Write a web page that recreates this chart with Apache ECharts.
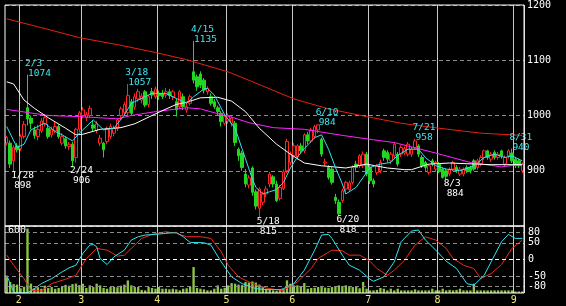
<!DOCTYPE html>
<html><head><meta charset="utf-8">
<script src="https://cdn.jsdelivr.net/npm/echarts@6/dist/echarts.min.js"></script>
<style>html,body{margin:0;padding:0;background:#000;}#c{width:566px;height:306px;}</style>
</head><body><div id="c"></div>
<script>
const dates = ['1/26','1/27','1/28','1/31',
'2/1','2/2','2/3','2/4','2/7','2/8','2/9','2/10','2/14','2/15','2/16','2/17','2/18','2/21','2/22','2/24','2/25','2/28',
'3/1','3/2','3/3','3/4','3/7','3/8','3/9','3/10','3/11','3/14','3/15','3/16','3/17','3/18','3/22','3/23','3/24','3/25','3/28','3/29','3/30','3/31',
'4/1','4/4','4/5','4/6','4/7','4/8','4/11','4/12','4/13','4/14','4/15','4/18','4/19','4/20','4/21','4/22','4/25','4/26','4/27','4/28',
'5/2','5/6','5/9','5/10','5/11','5/12','5/13','5/16','5/17','5/18','5/19','5/20','5/23','5/24','5/25','5/26','5/27','5/30','5/31',
'6/1','6/2','6/3','6/6','6/7','6/8','6/9','6/10','6/13','6/14','6/15','6/16','6/17','6/20','6/21','6/22','6/23','6/24','6/27','6/28','6/29','6/30',
'7/1','7/4','7/5','7/6','7/7','7/8','7/11','7/12','7/13','7/14','7/15','7/19','7/20','7/21','7/22','7/25','7/26','7/27','7/28','7/29',
'8/1','8/2','8/3','8/4','8/5','8/8','8/9','8/10','8/12','8/15','8/16','8/17','8/18','8/19','8/22','8/23','8/24','8/25','8/26','8/29','8/30','8/31',
'9/1','9/2','9/5'];

// [open, close, low, high]
const candles = [
[950,960,946,963],[950,912,905,955],[918,942,898,946],[945,938,933,950],[940,962,936,966],
[962,984,958,990],[1014,994,982,1074],[995,986,975,1000],[974,964,958,980],[962,975,955,983],
[972,990,968,995],[985,996,980,1001],[977,962,958,985],[965,975,960,980],[972,980,968,990],
[980,962,958,984],[950,962,946,968],[958,945,940,962],[944,948,938,952],[948,918,906,952],
[924,975,915,978],[975,1005,970,1008],[1000,1010,995,1015],[996,1002,990,1006],[1000,1013,995,1018],
[983,977,970,990],[973,985,968,990],[950,959,945,965],[950,938,924,952],[953,977,948,980],
[962,980,958,985],[968,977,962,982],[977,992,972,995],[1000,1012,992,1016],[1005,1020,1000,1025],
[1005,1036,1000,1057],[1025,1004,1000,1030],[1015,1034,1010,1040],[1030,1043,1025,1048],[1028,1035,1022,1040],
[1043,1019,1015,1046],[1020,1034,1015,1038],[1043,1037,1030,1050],[1034,1048,1030,1052],[1040,1036,1028,1045],
[1040,1034,1030,1046],[1037,1043,1032,1050],[1043,1036,1030,1048],[1034,1043,1028,1046],[1025,1010,998,1030],
[1016,1043,1012,1046],[1034,1016,1010,1040],[1010,1016,1005,1022],[1022,1034,1018,1038],[1079,1064,1058,1135],
[1070,1052,1045,1074],[1075,1055,1050,1080],[1064,1046,1040,1068],[1043,1049,1038,1053],[1034,1022,1018,1040],
[1025,1016,1012,1030],[1014,1007,1000,1018],[1004,989,980,1008],[986,998,982,1002],[990,1000,985,1004],
[986,995,980,998],[986,951,945,990],[939,927,918,942],[932,906,900,936],[894,876,870,903],
[874,887,868,892],[905,861,855,908],[862,836,830,866],[832,867,815,870],[843,858,838,862],
[858,867,852,872],[876,894,870,898],[889,876,870,892],[876,846,843,882],[850,870,846,874],
[868,898,865,902],[900,953,896,958],[915,930,910,935],[927,945,922,950],[925,945,920,948],
[945,936,930,950],[936,965,932,968],[965,954,948,970],[954,974,950,978],[962,980,958,983],
[974,983,968,984],[957,930,925,960],[914,916,909,922],[906,888,884,910],[903,879,875,907],
[852,846,840,858],[843,822,818,848],[846,864,842,868],[867,879,862,882],[866,878,862,882],
[879,906,875,910],[912,906,900,918],[909,927,905,930],[909,930,905,935],[930,894,890,934],
[906,882,876,910],[882,876,870,886],[897,909,892,912],[900,915,896,920],[936,924,918,940],
[933,921,915,937],[918,930,912,934],[927,948,922,952],[930,912,908,934],[930,942,925,946],
[932,940,928,944],[930,948,926,952],[930,939,925,943],[942,954,938,958],[945,930,925,948],
[924,909,905,928],[915,906,900,918],[897,909,893,912],[918,912,908,922],[903,915,898,918],
[912,900,896,916],[903,888,886,906],[900,890,884,904],[894,903,890,906],[903,915,900,918],
[906,900,896,910],[894,903,890,907],[894,903,890,906],[906,900,896,910],[906,900,895,909],
[918,903,900,921],[906,918,902,922],[912,924,908,928],[924,936,920,938],[936,924,920,938],
[921,930,916,934],[933,924,920,937],[924,930,920,934],[936,927,922,938],[912,924,908,928],
[927,936,922,939],[932,918,914,940],[921,909,905,925],[918,909,905,922],[900,912,896,915]
];

const volumes = [
150,105,85,80,45,60,615,90,45,55,
40,70,48,57,40,48,62,78,70,85,
90,75,89,48,73,57,89,73,48,41,
57,60,55,70,80,120,73,57,57,30,
25,57,48,41,57,41,41,35,41,35,
25,41,45,60,248,48,41,35,25,25,
41,73,41,50,73,95,89,80,75,105,
100,110,100,80,57,41,35,25,20,30,
40,121,89,73,73,60,95,41,48,50,
57,57,52,48,57,57,73,57,73,57,
57,57,45,105,41,25,25,30,48,41,
25,41,25,41,25,25,25,25,35,25,
25,25,25,41,25,25,41,25,30,25,
30,41,25,25,25,89,25,25,25,25,
25,25,25,25,25,25,25,15,15,15
];

// moving averages: [dayIndex, price]
const maShort = [[0,980],[3,942],[5,948],[7,974],[9,980],[11,986],[14,971],[16,965],[19,954],[21,968],[25,992],[28,974],[31,977],[34,1001],[36,1022],[37,1025],[42,1040],[46,1040],[49,1031],[52,1022],[54,1034],[57,1048],[58,1049],[60,1037],[63,1001],[66,977],[68,940],[71,885],[72,870],[74,858],[76,862],[78,866],[80,879],[82,905],[84,925],[86,940],[89,960],[91,965],[93,939],[95,906],[97,876],[98,858],[101,870],[103,888],[105,906],[108,912],[111,915],[113,928],[116,939],[119,939],[121,924],[124,909],[127,903],[131,900],[135,909],[138,924],[141,930],[144,924],[146,927],[149,918]];
const maMid = [[0,1061],[2,1057],[5,1028],[8,1013],[12,996],[17,977],[20,965],[22,966],[27,975],[33,978],[37,985],[40,994],[44,1006],[49,1020],[52,1024],[56,1032],[61,1033],[65,1026],[69,1007],[73,977],[78,948],[82,930],[86,914],[91,909],[98,905],[104,912],[110,905],[115,902],[117,902],[122,912],[128,914],[140,911],[149,911]];
const maLong = [[0,1011],[12,1000],[21,998],[32,994],[36,1000],[43,1007],[52,1014],[56,1012],[60,1005],[65,997],[70,987],[77,978],[86,975],[97,964],[106,956],[112,951],[124,932],[134,915],[143,907],[149,912]];
const maVeryLong = [[0,1175],[10,1159],[21,1141],[33,1127],[43,1114],[52,1101],[64,1079],[73,1056],[83,1030],[93,1012],[104,998],[114,986],[125,977],[137,968],[149,964]];

// oscillator lines: [dayIndex, value]
const oscFast = [[0,-47],[1,-72],[2,-97],[3,-100],[6,-99],[8,-87],[10,-72],[13,-57],[16,-37],[18,-25],[20,-17],[22,18],[24,43],[25,45],[26,38],[27,3],[29,-15],[31,8],[34,28],[36,58],[38,68],[40,73],[43,75],[46,78],[49,81],[51,68],[53,51],[57,50],[59,43],[62,-7],[64,-37],[65,-52],[68,-72],[72,-87],[75,-90],[79,-90],[80,-87],[83,-72],[86,-32],[89,28],[91,73],[93,75],[94,63],[97,13],[99,-17],[102,-32],[105,-59],[106,-65],[109,-52],[112,-7],[114,53],[117,85],[119,88],[121,58],[124,28],[127,-5],[130,-27],[133,-72],[135,-77],[138,-47],[140,-7],[143,53],[145,75],[147,63],[149,63]];
const oscSlow = [[0,13],[2,-17],[5,-57],[7,-92],[10,-94],[13,-72],[17,-59],[20,-47],[23,3],[26,33],[29,28],[32,10],[34,13],[37,43],[39,63],[42,75],[46,83],[49,78],[52,68],[56,68],[59,63],[62,23],[64,-17],[67,-52],[71,-72],[75,-85],[79,-92],[80,-92],[84,-67],[88,-27],[90,3],[94,28],[97,26],[99,13],[102,13],[105,-5],[107,-27],[110,-47],[112,-32],[115,-2],[118,43],[121,68],[124,58],[127,33],[129,3],[132,-17],[135,-27],[137,-57],[140,-42],[143,-15],[146,33],[149,58]];

const highMarks = [['2/3',1074],['3/18',1057],['4/15',1135],['6/10',984],['7/21',958],['8/31',940]];
const lowMarks = [['1/28',898],['2/24',906],['5/18',815],['6/20',818],['8/3',884]];
const oscTicks = [80,50,0,-50,-80];
const volumeTick = 600;

const FONT = 'DejaVu Sans Mono';
const isMonthStart = (i) => i > 0 && dates[i].split('/')[0] !== dates[i - 1].split('/')[0];

function richFor(color) {
  return {
    d: {color, fontFamily: FONT, fontSize: 9.5, lineHeight: 10},
    v: {color, fontFamily: FONT, fontSize: 9.5, lineHeight: 10, padding: [0, 0, 0, 3]}
  };
}
const markData = highMarks.map(([d, v]) => ({
  coord: [d, v],
  label: {show: true, formatter: '{d|' + d + '}\n{v|' + v + '}', position: [-2.5, 3.5], align: 'left', verticalAlign: 'bottom', rich: richFor('#3ee6f2')}
})).concat(lowMarks.map(([d, v]) => ({
  coord: [d, v],
  label: {show: true, formatter: '{d|' + d + '}\n{v|' + v + '}', position: [-2.5, -1.5], align: 'left', verticalAlign: 'top', rich: richFor('#ffffff')}
})));

function xAxisFor(gridIndex, showLabels) {
  return {
    type: 'category', gridIndex, data: dates, boundaryGap: true,
    axisLine: {show: false}, axisTick: {show: false, interval: isMonthStart},
    splitLine: {show: true, interval: isMonthStart, lineStyle: {color: '#c8c8c8', width: 1, type: 'solid'}},
    axisLabel: {show: showLabels, interval: isMonthStart, formatter: (v) => v.split('/')[0],
      color: '#ece878', fontSize: 10, fontFamily: FONT, margin: 2, padding: [0, 3.4, 0, 0]}
  };
}

const lineSeries = (data, color, xi, yi) => ({
  type: 'line', xAxisIndex: xi, yAxisIndex: yi, data, showSymbol: false, symbol: 'none',
  lineStyle: {color, width: 1}, silent: true, z: 3
});

const chart = echarts.init(document.getElementById('c'), null, {renderer: 'canvas'});
chart.setOption({
  backgroundColor: '#000',
  animation: false,
  grid: [
    {left: 5, top: 2, width: 519, height: 224, show: true, borderColor: '#fff', borderWidth: 1, backgroundColor: 'transparent', z: 10},
    {left: 5, top: 226, width: 519, height: 67, show: true, borderColor: '#fff', borderWidth: 1, backgroundColor: 'transparent', z: 10}
  ],
  xAxis: [xAxisFor(0, false), xAxisFor(1, true)],
  yAxis: [
    {type: 'value', gridIndex: 0, position: 'right', min: 800, max: 1200, interval: 100,
      axisLine: {show: false}, axisTick: {show: false},
      splitLine: {show: true, lineStyle: {color: '#8a8a8a', type: [4, 3], width: 1}},
      axisLabel: {color: '#fff', fontSize: 10, fontFamily: FONT, margin: 3, padding: [5, 0, 0, 0],
        formatter: (v) => v === 800 ? '' : String(v)}},
    {type: 'value', gridIndex: 1, position: 'left', min: 0, max: 640, interval: 600,
      axisLine: {show: false}, axisTick: {show: false}, splitLine: {show: false},
      axisLabel: {inside: true, margin: 3, color: '#fff', fontSize: 10, fontFamily: FONT,
        formatter: (v) => v === volumeTick ? String(v) : ''}},
    {type: 'value', gridIndex: 1, position: 'right', min: -100, max: 100, interval: 10,
      axisLine: {show: false}, axisTick: {show: false}, splitLine: {show: false},
      axisLabel: {color: '#fff', fontSize: 10, fontFamily: FONT, margin: 4,
        formatter: (v) => oscTicks.includes(v) ? String(v) : ''}}
  ],
  series: [
    {type: 'candlestick', xAxisIndex: 0, yAxisIndex: 0, data: candles, barWidth: 3,
      itemStyle: {color: '#000', color0: '#22d622', borderColor: '#ff2626', borderColor0: '#22d622', borderWidth: 1},
      z: 2,
      markPoint: {symbol: 'circle', symbolSize: 0, silent: true, animation: false, data: markData}},
    lineSeries(maVeryLong, '#e82010', 0, 0),
    lineSeries(maLong, '#ff22ff', 0, 0),
    lineSeries(maMid, '#ffffff', 0, 0),
    lineSeries(maShort, '#30e4f0', 0, 0),
    {type: 'bar', xAxisIndex: 1, yAxisIndex: 1, data: volumes, barWidth: '68%',
      itemStyle: {color: '#8cc63f'}, silent: true, z: 2},
    Object.assign(lineSeries(oscSlow, '#f02a1a', 1, 2), {
      markLine: {silent: true, symbol: ['none', 'none'], label: {show: false}, animation: false,
        lineStyle: {type: [4, 3], width: 1},
        data: oscTicks.map((v) => ({yAxis: v, lineStyle: {color: v === 0 ? '#ffffff' : '#8a8a8a', type: [4, 3], width: 1}}))}
    }),
    lineSeries(oscFast, '#30e4f0', 1, 2)
  ]
});
</script>
</body></html>
